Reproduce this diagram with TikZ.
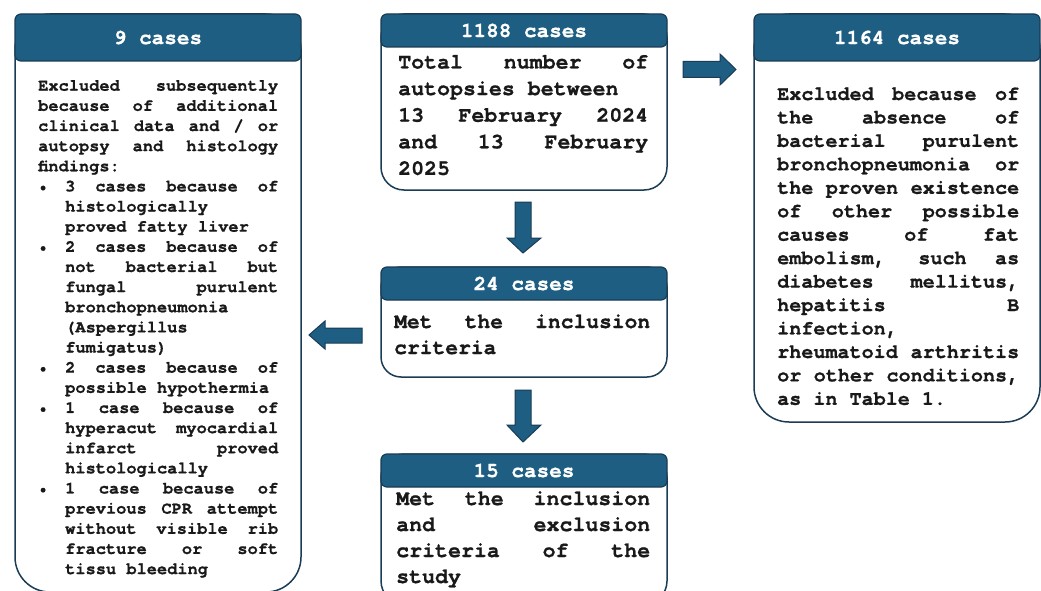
\documentclass[tikz,border=0pt]{standalone}
\usepackage{fontspec}
\setmonofont{texgyrecursor}[Extension=.otf, UprightFont=*-regular, BoldFont=*-bold, ItalicFont=*-italic, BoldItalicFont=*-bolditalic, BoldFeatures={FakeBold=0.8}]
\definecolor{hdrfill}{RGB}{30,94,130}
\definecolor{edgecol}{RGB}{26,60,84}
\newcommand\xbul{\raisebox{0.5pt}{\fontsize{13}{13}\selectfont\textbullet}}
\newcommand\xJL[1]{\hbox to\hsize{\spaceskip=0.6em plus 1fil\relax #1}}
\newcommand\xLL[1]{\hbox to\hsize{#1\hfil}}
\newcommand\xBJ[1]{\hbox to\hsize{\hbox to 27pt{\hskip1pt\xbul\hfil}\hbox to\dimexpr\hsize-27pt\relax{\spaceskip=0.6em plus 1fil\relax #1}}}
\newcommand\xIJ[1]{\hbox to\hsize{\hskip27pt\hbox to\dimexpr\hsize-27pt\relax{\spaceskip=0.6em plus 1fil\relax #1}}}
\newcommand\xIL[1]{\hbox to\hsize{\hskip27pt #1\hfil}}
\newcommand\txtblock[2]{\vtop{\hsize=#1\relax #2}}
\tikzset{
  bodybox/.style={draw=edgecol, line width=1.5pt, fill=white, inner sep=0pt},
  hdr/.style={draw=edgecol, line width=1.2pt, fill=hdrfill, rounded corners=6pt,
    text=white, inner sep=0pt, font=\ttfamily\bfseries\fontsize{21}{25}\selectfont},
  blockarrow/.style={draw=edgecol, line width=1pt, fill=hdrfill, line join=miter},
  bodytxt/.style={anchor=base west, inner sep=0pt, text=black!90}
}
\begin{document}
\begin{tikzpicture}[x=1pt,y=-1pt]
\useasboundingbox (0,0) rectangle (1041,591);
% body boxes
\node[bodybox, minimum width=286pt, minimum height=578pt, rounded corners=35pt] (b9) at (158,303) {};
\node[bodybox, minimum width=286pt, minimum height=176pt, rounded corners=23pt] (b1188) at (524,102) {};
\node[bodybox, minimum width=286pt, minimum height=110pt, rounded corners=20pt] (b24) at (524,322) {};
\node[bodybox, minimum width=286pt, minimum height=150pt, rounded corners=23pt] (b15) at (524,529) {};
\node[bodybox, minimum width=286pt, minimum height=408pt, rounded corners=35pt] (b1164) at (897,218) {};
% headers
\node[hdr, minimum width=286pt, minimum height=47pt] (h9) at (158,37.5) {9 cases};
\node[hdr, minimum width=286pt, minimum height=33pt] (h1188) at (524,30.5) {1188 cases};
\node[hdr, minimum width=286pt, minimum height=33pt] (h24) at (524,283.5) {24 cases};
\node[hdr, minimum width=286pt, minimum height=33pt] (h15) at (524,470.5) {15 cases};
\node[hdr, minimum width=286pt, minimum height=47pt] (h1164) at (897,37.5) {1164 cases};
% texts
\node[bodytxt, font=\ttfamily\bfseries\fontsize{17}{20.14}\selectfont] (t9) at (38,90.7) {\txtblock{240pt}{%
\xJL{Excluded subsequently}
\xJL{because of additional}
\xJL{clinical data and / or}
\xJL{autopsy and histology}
\xLL{findings:}
\xBJ{3 cases because of}
\xIL{histologically}
\xIL{proved fatty liver}
\xBJ{2 cases because of}
\xIJ{not bacterial but}
\xIJ{fungal purulent}
\xIL{bronchopneumonia}
\xIL{(Aspergillus}
\xIL{fumigatus)}
\xBJ{2 cases because of}
\xIL{possible hypothermia}
\xBJ{1 case because of}
\xIJ{hyperacut myocardial}
\xIJ{infarct proved}
\xIL{histologically}
\xBJ{1 case because of}
\xIJ{previous CPR attempt}
\xIJ{without visible rib}
\xIJ{fracture or soft}
\xIL{tissu bleeding}}};
\node[bodytxt, font=\ttfamily\bfseries\fontsize{21.6}{26.6}\selectfont] (t1188) at (398,68.5) {\txtblock{250pt}{%
\xJL{Total number of}
\xLL{autopsies between}
\xJL{13 February 2024}
\xJL{and 13 February}
\xLL{2025}}};
\node[bodytxt, font=\ttfamily\bfseries\fontsize{21.3}{26}\selectfont] (t24) at (394,328) {\txtblock{256pt}{%
\xJL{Met the inclusion}
\xLL{criteria}}};
\node[bodytxt, font=\ttfamily\bfseries\fontsize{21.6}{26}\selectfont] (t15) at (396,505) {\txtblock{254pt}{%
\xJL{Met the inclusion}
\xJL{and exclusion}
\xJL{criteria of the}
\xLL{study}}};
\node[bodytxt, font=\ttfamily\bfseries\fontsize{20.1}{23.45}\selectfont] (t1164) at (777,100) {\txtblock{242pt}{%
\xJL{Excluded because of}
\xJL{the absence of}
\xJL{bacterial purulent}
\xJL{bronchopneumonia or}
\xJL{the proven existence}
\xJL{of other possible}
\xJL{causes of fat}
\xJL{embolism, such as}
\xJL{diabetes mellitus,}
\xJL{hepatitis B}
\xLL{infection,}
\xJL{rheumatoid arthritis}
\xJL{or other conditions,}
\xLL{as in Table 1.}}};
% block arrows
\draw[blockarrow] (683,61.5) -- (720,61.5) -- (720,54) -- (736,69.5) -- (720,85) -- (720,77.5) -- (683,77.5) -- cycle;
\draw[blockarrow] (515,202) -- (531,202) -- (531,238) -- (541,238) -- (523,253) -- (507,238) -- (515,238) -- cycle;
\draw[blockarrow] (515,390) -- (531,390) -- (531,425) -- (541,425) -- (523,442) -- (507,425) -- (515,425) -- cycle;
\draw[blockarrow] (362,328) -- (325,328) -- (325,321) -- (309,335) -- (325,349) -- (325,343) -- (362,343) -- cycle;
\end{tikzpicture}
\end{document}
